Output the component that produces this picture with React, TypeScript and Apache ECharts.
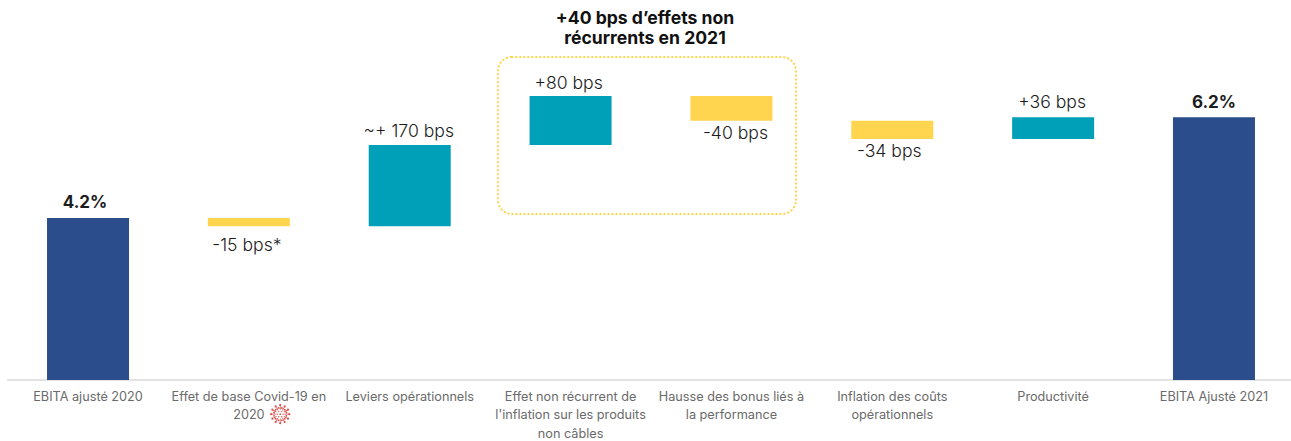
import React, { useEffect, useRef } from "react";
import * as echarts from "echarts";

const categories = [
  "EBITA ajusté 2020",
  "Effet de base Covid-19 en\n2020",
  "Leviers opérationnels",
  "Effet non récurrent de\nl'inflation sur les produits\nnon câbles",
  "Hausse des bonus liés à\nla performance",
  "Inflation des coûts\nopérationnels",
  "Productivité",
  "EBITA Ajusté 2021",
];
const kinds = ["total", "down", "up", "up", "down", "down", "up", "total"];
const barLow = [0, 4.05, 4.05, 5.66, 6.14, 5.78, 5.78, 0];
const barHigh = [4.21, 4.21, 5.66, 6.63, 6.63, 6.14, 6.21, 6.21];
const valueLabels = ["4.2%", "-15 bps*", "~+ 170 bps", "+80 bps", "-40 bps", "-34 bps", "+36 bps", "6.2%"];
const calloutTitle = "+40 bps d’effets non\nrécurrents en 2021";

const FONT = "Inter, 'Noto Sans', sans-serif";
const NAVY = "#2B4D8C";
const TEAL = "#00A0B8";
const YELLOW = "#FFD54F";
const labelDistance = [8, 9, 6, 5, 3, 3, 7, 7];
const labelShift: number[][] = [[-3, 0], [-2, 0], [-1, 0], [-2, 0], [4, 0], [-3, 0], [-1, 0], [0, 0]];

const virus = (() => {
  const cx = 12, cy = 12;
  let d = "";
  const dot = (x: number, y: number, r: number) =>
    `M${x - r} ${y}A${r} ${r} 0 1 0 ${x + r} ${y}A${r} ${r} 0 1 0 ${x - r} ${y}Z`;
  for (let i = 0; i < 12; i++) {
    const a = (i * Math.PI) / 6;
    const c = Math.cos(a), s = Math.sin(a);
    const w = 0.45;
    d += `M${cx + 5 * c - w * s} ${cy + 5 * s + w * c}L${cx + 10 * c - w * s} ${cy + 10 * s + w * c}L${cx + 10 * c + w * s} ${cy + 10 * s - w * c}L${cx + 5 * c + w * s} ${cy + 5 * s - w * c}Z`;
    d += dot(cx + 10.6 * c, cy + 10.6 * s, 1.3);
    d += dot(cx + 7.5 * (c * 0.966 - s * 0.259), cy + 7.5 * (s * 0.966 + c * 0.259), 1.1);
    if (i % 2 === 0) d += dot(cx + 3.5 * c, cy + 3.5 * s, 0.8);
  }
  return d + dot(cx, cy, 1);
})();
echarts.graphic.registerShape("virus", echarts.graphic.extendPath(virus, {}));

export default function App() {
  const ref = useRef<HTMLDivElement>(null);
  useEffect(() => {
    document.body.style.margin = "0";
    const chart = echarts.init(ref.current!, undefined, { renderer: "svg" });
    const visible = (kind: string, color: string) => ({
      type: "bar",
      stack: "w",
      barWidth: 82,
      itemStyle: { color },
      data: categories.map((_, i) =>
        kinds[i] === kind
          ? {
              value: +(barHigh[i] - barLow[i]).toFixed(2),
              label: {
                show: true,
                position: kind === "down" ? "bottom" : "top",
                distance: labelDistance[i],
                offset: labelShift[i],
                formatter: valueLabels[i],
                fontFamily: FONT,
                fontSize: kind === "total" ? 17 : 17.6,
                fontWeight: kind === "total" ? "bold" : 300,
                color: "#1c1c1c",
              },
            }
          : "-"
      ),
    });
    chart.setOption({
      animation: false,
      title: {
        text: calloutTitle,
        left: 640,
        top: 3,
        textAlign: "center",
        textStyle: { fontFamily: FONT, fontSize: 17.6, fontWeight: "bold", color: "#111", lineHeight: 19.5 },
      },
      grid: { left: 7.6, width: 1286.8, top: 27, height: 353, outerBoundsMode: "none" },
      xAxis: {
        type: "category",
        data: categories,
        axisTick: { show: false },
        axisLine: { lineStyle: { color: "#d9d9d9", width: 1.5 } },
        axisLabel: {
          interval: 0,
          margin: 7,
          fontFamily: FONT,
          fontSize: 12.7,
          lineHeight: 18.6,
          color: "#6a6a6a",
        },
      },
      yAxis: { type: "value", min: 1, max: 8, show: false, splitLine: { show: false } },
      series: [
        {
          type: "bar",
          stack: "w",
          barWidth: 82,
          silent: true,
          itemStyle: { color: "transparent" },
          data: barLow,
        },
        visible("total", NAVY),
        visible("up", TEAL),
        visible("down", YELLOW),
      ],
      graphic: [
        {
          type: "rect",
          shape: { x: 498, y: 57, width: 298, height: 157, r: 14 },
          style: { fill: "none", stroke: YELLOW, lineWidth: 2, lineDash: [0.5, 3.5], lineCap: "round" },
        },
        {
          type: "virus",
          x: 270,
          y: 404,
          scaleX: 0.85,
          scaleY: 0.85,
          style: { fill: "#D9534F" },
        },
      ],
    });
    return () => chart.dispose();
  }, []);
  return <div ref={ref} style={{ width: 1291, height: 441 }} />;
}
